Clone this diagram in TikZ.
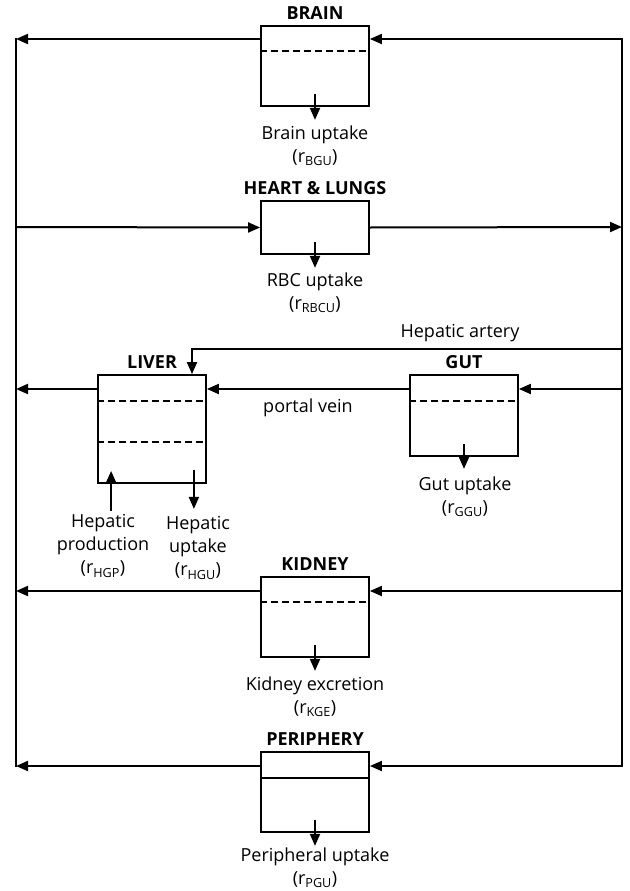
\documentclass[tikz,border=0pt]{standalone}
\usepackage{fontspec}
\setmainfont{Open Sans}
\usetikzlibrary{arrows.meta,positioning}
\tikzset{
  organ/.style={draw, line width=1.8pt, minimum width=108pt, inner sep=0pt},
  title/.style={font=\bfseries\fontsize{18}{22}\selectfont},
  rate/.style={align=center, font=\fontsize{18}{23}\selectfont, inner sep=0pt},
  flow/.style={line width=2pt, -{Triangle[length=12pt,width=10pt]}},
  vessel/.style={line width=2pt, line cap=rect},
  divider/.style={line width=1.5pt, dash pattern=on 7pt off 4pt},
}
\begin{document}
\begin{tikzpicture}[x=1pt, y=-1pt]
\useasboundingbox (0,0) rectangle (629,891);

% Compartiments
\node[organ, minimum height=80pt]  (brain)  at (315,66)    {};
\node[organ, minimum height=53pt]  (heart)  at (315,227.5) {};
\node[organ, minimum height=108pt] (liver)  at (152,429)   {};
\node[organ, minimum height=81pt]  (gut)    at (464,415.5) {};
\node[organ, minimum height=80pt]  (kidney) at (315,617)   {};
\node[organ, minimum height=80pt]  (periph) at (315,792)   {};

% Titres
\node[title, above=2pt of brain]  (brainlbl)  {BRAIN};
\node[title, above=2pt of heart]  (heartlbl)  {HEART \& LUNGS};
\node[title, above=2pt of liver]  (liverlbl)  {LIVER};
\node[title, above=2pt of gut]    (gutlbl)    {GUT};
\node[title, above=2pt of kidney] (kidneylbl) {KIDNEY};
\node[title, above=2pt of periph] (periphlbl) {PERIPHERY};

% Cloisons internes
\draw[divider] ([yshift=-26pt]brain.north west) -- ([yshift=-26pt]brain.north east);
\draw[divider] ([yshift=-27pt]liver.north west) -- ([yshift=-27pt]liver.north east);
\draw[divider] ([yshift=-68pt]liver.north west) -- ([yshift=-68pt]liver.north east);
\draw[divider] ([yshift=-27pt]gut.north west) -- ([yshift=-27pt]gut.north east);
\draw[divider] ([yshift=-26pt]kidney.north west) -- ([yshift=-26pt]kidney.north east);
\draw[line width=1.5pt] ([yshift=-27pt]periph.north west) -- ([yshift=-27pt]periph.north east);

% Circulation : veines (gauche) et arteres (droite)
\foreach \org/\y in {brain/39, heart/227, liver/389, kidney/591, periph/766} {
    \coordinate (l\org) at (16,\y);
    \coordinate (r\org) at (622,\y);
}
\draw[vessel] (lbrain) -- (lperiph);
\draw[vessel] (rbrain) -- (rperiph);

\foreach \org in {brain, kidney, periph} {
    \draw[flow] (r\org) -- (r\org -| \org.east);
    \draw[flow] (\org.west |- l\org) -- (l\org);
}
\draw[flow] (lheart) -- (heart.west);
\draw[flow] (heart.east) -- (rheart);

% Foie et intestin
\draw[flow] (rliver) -- (rliver -| gut.east);
\draw[flow] (gut.west |- rliver) -- (liver.east |- rliver)
    node[rate, midway, below=9pt] (portal) {portal vein};
\draw[flow] (liver.west |- lliver) -- (lliver);

% Artere hepatique
\coordinate (ha) at (192,349);
\draw[flow] (622,349) -- (ha) -- (ha |- liver.north);
\node[rate] (artery) at (460,333) {Hepatic artery};

% Captures
\foreach \org in {brain, heart, kidney, periph} {
    \draw[flow] ([yshift=13pt]\org.south) -- ([yshift=-13pt]\org.south);
}
\draw[flow] ([yshift=13pt]gut.south) -- ([yshift=-12pt]gut.south);
\draw[flow] ([xshift=14pt,yshift=-27pt]liver.south west) -- ([xshift=14pt,yshift=13pt]liver.south west);
\draw[flow] ([xshift=-13pt,yshift=14pt]liver.south east) -- ([xshift=-13pt,yshift=-25pt]liver.south east);

\node[rate] (bgu)  at (315,146) {Brain uptake\\(r\textsubscript{BGU})};
\node[rate] (rbcu) at (315,293) {RBC uptake\\(r\textsubscript{RBCU})};
\node[rate] (ggu)  at (465,497) {Gut uptake\\(r\textsubscript{GGU})};
\node[rate] (hgp)  at (103,546) {Hepatic\\production\\(r\textsubscript{HGP})};
\node[rate] (hgu)  at (198,548) {Hepatic\\uptake\\(r\textsubscript{HGU})};
\node[rate] (kge)  at (315,697) {Kidney excretion\\(r\textsubscript{KGE})};
\node[rate] (pgu)  at (315,868) {Peripheral uptake\\(r\textsubscript{PGU})};

\end{tikzpicture}
\end{document}
